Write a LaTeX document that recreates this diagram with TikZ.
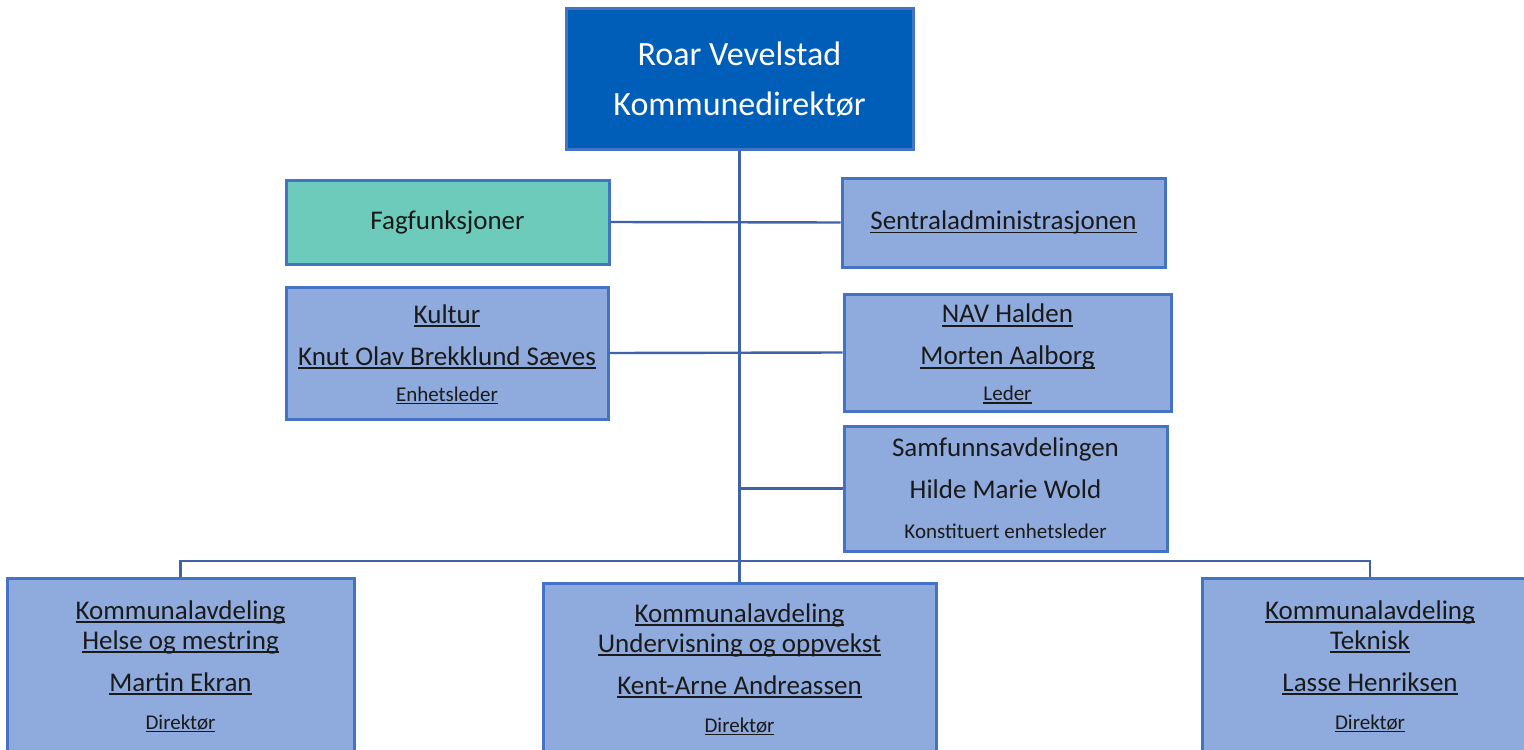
\documentclass[tikz,border=0pt]{standalone}
\usepackage{fontspec}
\setmainfont{Carlito}
\definecolor{chiefblue}{HTML}{005EB8}
\definecolor{unitblue}{HTML}{8FAADC}
\definecolor{unitteal}{HTML}{6CCBBB}
\definecolor{boxedge}{HTML}{4472C4}
\definecolor{linkblue}{HTML}{4062AA}
\definecolor{textdark}{HTML}{1A1A1A}
\newsavebox\lnkbox
\newcommand\lnk[1]{\sbox\lnkbox{#1}\rlap{\smash{\rule[-0.14em]{\wd\lnkbox}{0.06em}}}\usebox\lnkbox}
\newcommand\smalltxt{\fontsize{10.5}{15}\selectfont}

\begin{document}
\begin{tikzpicture}[x=0.5pt,y=-0.5pt,font=\fontsize{13.5}{21}\selectfont]
  \tikzstyle{unit}=[draw=boxedge,line width=1.5pt,fill=unitblue,inner sep=0pt,align=center,text=textdark]
  \tikzstyle{dept}=[unit,font=\fontsize{13.5}{15}\selectfont]
  \tikzstyle{link}=[draw=linkblue,line width=1.2pt]
  \useasboundingbox (0,0) rectangle (1524,749);
  \clip (0,0) rectangle (1524,749);

  % top of the tree
  \node[unit,fill=chiefblue,text=white,font=\fontsize{17}{25}\selectfont,
        minimum width=173.5pt,minimum height=70pt] (chief) at (739.5,79)
        {Roar Vevelstad\\Kommunedirektør};

  % staff units along the trunk
  \node[unit,fill=unitteal,minimum width=161.5pt,minimum height=42pt] (fag) at (447.5,222) {Fagfunksjoner};
  \node[unit,minimum width=161.5pt,minimum height=44.5pt] (sentral) at (1003.5,222.5) {\lnk{Sentraladministrasjonen}};
  \node[unit,minimum width=161pt,minimum height=66pt] (kultur) at (447,353)
        {\lnk{Kultur}\\\lnk{Knut Olav Brekklund Sæves}\\[-3pt]{\smalltxt\lnk{Enhetsleder}}};
  \node[unit,minimum width=163.5pt,minimum height=58.5pt] (nav) at (1007.5,352.5)
        {\lnk{NAV Halden}\\\lnk{Morten Aalborg}\\[-3pt]{\smalltxt\lnk{Leder}}};
  \node[unit,minimum width=161.5pt,minimum height=62.5pt] (samfunn) at (1005.5,488.5)
        {Samfunnsavdelingen\\Hilde Marie Wold\\[-1pt]{\smalltxt Konstituert enhetsleder}};

  % departments
  \node[dept,minimum width=173.5pt,minimum height=87pt] (helse) at (180.5,665)
        {\lnk{Kommunalavdeling}\\\lnk{Helse og mestring}\\[6pt]\lnk{Martin Ekran}\\[4pt]{\smalltxt\lnk{Direktør}}};
  \node[dept,minimum width=196.5pt,minimum height=85pt] (underv) at (739.5,668)
        {\lnk{Kommunalavdeling}\\\lnk{Undervisning og oppvekst}\\[6pt]\lnk{Kent-Arne Andreassen}\\[4pt]{\smalltxt\lnk{Direktør}}};
  \node[dept,minimum width=168pt,minimum height=87pt] (teknisk) at (1370,665)
        {\lnk{Kommunalavdeling}\\\lnk{Teknisk}\\[6pt]\lnk{Lasse Henriksen}\\[4pt]{\smalltxt\lnk{Direktør}}};

  % connectors
  \coordinate (bus) at (739.5,561);
  \draw[link] (chief.south) -- (underv.north);
  \draw[link] (fag.east) -- (sentral.west);
  \draw[link] (kultur.east) -- (nav.west);
  \draw[link] (samfunn.west) -- (samfunn.west -| chief.south);
  \draw[link] (helse.north) |- (bus) -| (teknisk.north);
\end{tikzpicture}
\end{document}
